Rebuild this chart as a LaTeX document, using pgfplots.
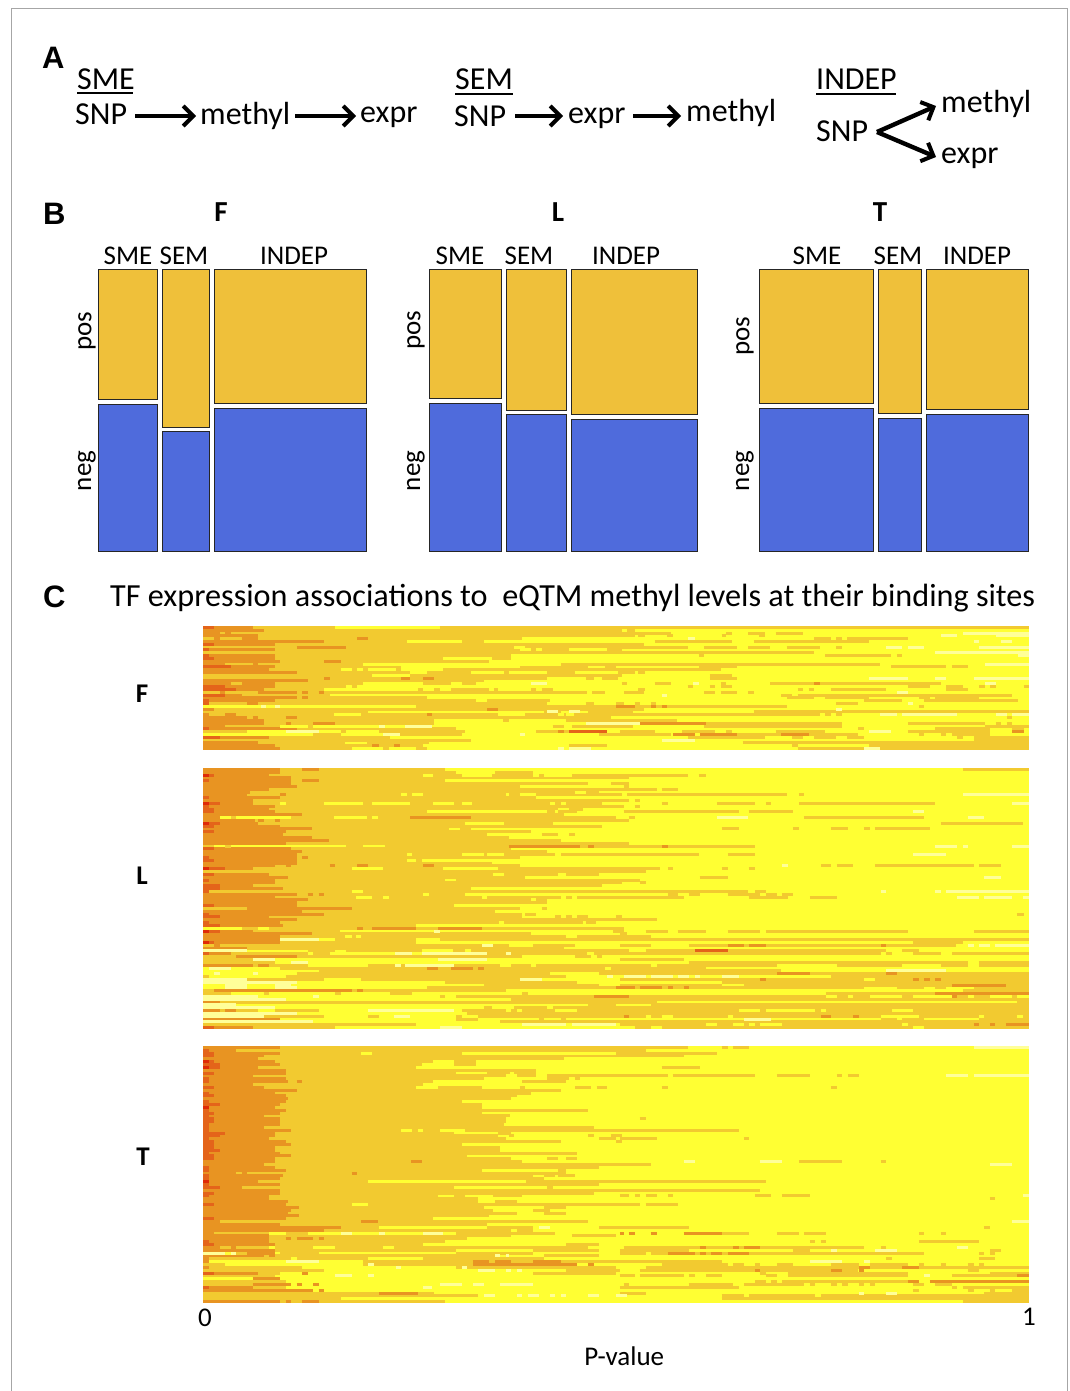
\documentclass[border=0pt]{standalone}
\usepackage{fontspec}
\setmainfont{Carlito}
\newfontfamily\arialb{Liberation Sans}[BoldFont={Liberation Sans Bold}]
\usepackage{pgfplots}
\usepackage{pgfplotstable}
\pgfplotsset{compat=1.18}
\usetikzlibrary{arrows.meta}
\definecolor{cY}{HTML}{FFFF33}
\definecolor{cG}{HTML}{F2CA30}
\definecolor{cO}{HTML}{E89422}
\definecolor{cD}{HTML}{E4641A}
\definecolor{cR}{HTML}{DF2A08}
\definecolor{cP}{HTML}{FFFF99}
\definecolor{mG}{HTML}{EFC03A}
\definecolor{mB}{HTML}{4F6BDC}
\pgfplotstableread{
r d a b
0 2 9 24
1 0 11 76
2 0 3 85
3 0 10 78.5
4 0 0 58
5 0 22 37
6 2 13 80
7 0 0 88
8 1 13 76
9 0 0 111
10 1 13 56
11 2 13 56
12 0 14 52
13 0 4 123
14 5 13 36
15 0 12 36
16 0 17 78.5
17 0 0 76
18 0 0 62.5
19 0 19 51
20 0 13 29
21 4 13 26
22 6 11 22
23 0 0 73
24 4 7 23
25 0 17 40.7
26 1 13 63
27 1 1 62.5
28 0 0 0
29 0 2 80
30 0 0 30
31 0 1 112
32 0 8 74
33 0 11 42
34 0 11 42
35 0 4 14
36 1 17 46
37 0 0 8
38 0 0 0
39 3 12 34
40 0 0 48.7
41 0 10 25.8
42 0 13 40
43 0 13 27
}\Fbase
\pgfplotstableread{
r s e l
0 43 150 1
1 77 78.5 1
2 95 96 1
2 99 102 1
2 104 109 1
2 138 147 4
2 147 150 4
2 4 5 2
3 79 80.3 1
3 84.3 85.3 1
3 94.2 95 1
3 101 102 1
3 134 137 4
3 144 150 4
4 2 3 2
4 7 10 2
4 28 30 2
4 111 114 1
4 115 116 1
4 117 128 1
4 88 89.3 4
5 47 51 1
5 82 96 1
5 100 121 1
5 140 141 4
5 145 147 4
7 17 26 2
7 56.5 58.5 0
7 91 97 1
7 99 103 1
7 106 112 1
7 115 116 1
7 124 127 4
7 128 131 4
7 141 150 4
8 57.5 59.5 0
8 60.5 61.5 0
8 66.5 73.4 0
9 133 150 4
10 90 91 1
10 113 125 1
10 126 127 1
10 148 150 4
11 43.6 52.5 0
12 22 25 2
13 9 10 2
13 29 65 0
13 142 150 4
14 57.5 70 1
14 73 75 1
14 90 97 1
14 125 135 1
14 136 139 1
15 25 27 0
15 28 29 0
15 30 35 0
15 43.6 94 1
16 37.6 40.7 0
16 48.7 54.6 0
16 55.5 62.5 0
16 67.5 75.3 0
16 79 80.3 1
17 30.7 37.6 0
17 92 96 1
18 22 23 2
18 36 37.6 2
18 40 42 2
18 69.5 71 1
18 72.5 75.3 1
18 92 97 1
18 121 128 4
18 133 135 4
18 140 150 4
20 5 7 1
20 40 45 1
20 47 49.6 1
20 59.6 62.5 4
20 76 77 1
20 82 85 1
20 94 95 1
20 103 134 1
20 111 112 2
20 89 90 4
20 142 144 4
21 27 28 1
21 88 89 1
21 92 93 1
21 94 96 1
21 128 132 1
21 135 138 1
21 141 142 1
21 143 144 1
21 149 150 1
22 39 40 1
22 42 43 1
22 45 52 1
22 52.8 53.6 1
22 59.6 60.5 1
22 61.5 63.5 1
22 79 80.3 1
22 108 109 1
22 110 111 1
22 114 124 1
22 135 139 1
23 3 4 2
23 10 17 2
23 18 19 2
23 21 22 2
23 69.8 70.7 0
23 76.5 80 1
23 91 93 1
23 94 97 1
23 99 100 1
23 126 128 4
24 83.3 84.2 4
24 105 107 1
24 108 147 1
25 18 19 2
25 106 111 1
25 113 121 1
25 130 132 1
25 133 141 1
26 49.6 51.6 0
26 120 127 1
26 131 148 1
27 8 10 2
27 69.5 71 1
27 75 76.5 1
27 78.4 79.3 1
27 81.3 82.3 1
27 115 119 1
27 128 129 4
28 38.7 106 1
28 75 78.4 2
28 81.3 82.3 2
28 83.3 84.2 2
28 130 131 1
28 10.5 11.5 4
28 13 14 4
29 51.6 53.6 2
29 115 116 4
30 62 65 1
30 67 68 1
30 70 78 1
30 100 150 1
30 62.5 64.5 4
30 66.5 68.5 4
31 4 6 2
31 23.8 28.7 0
31 40.7 41.6 2
31 53.6 58.5 0
31 64.5 65.5 0
31 66 67.4 0
31 113 114 1
31 115 116 1
31 123 126 4
31 127 137 4
31 144 146 4
31 147 150 4
32 9 10 2
32 15 17 2
32 146 147 1
33 54.5 55.5 1
33 66 86 1
34 15 16 2
34 20 24 2
34 69.5 78 4
34 75.7 79.3 4
34 79.3 91.3 2
34 91.3 116 1
34 128 142 1
34 144 145 1
34 146 147 1
35 14 19 0
35 19 20 1
35 20 32 0
35 32 33 4
35 33 36.7 0
35 36.7 41.6 4
35 63.5 65.5 1
35 67 78 1
35 91 116 1
35 142 150 1
35 14 14.5 1
36 119 120 1
36 133 143 1
36 147 149 1
37 25 26 1
37 15 21 4
37 32 47.6 1
37 60.5 66.5 1
37 64.5 65.5 2
37 66.5 73.4 3
37 75.7 82 1
37 87 93 1
37 95 96 1
37 104 113 1
37 128 143 1
37 147 149 2
37 121 125 4
38 20 25 1
38 32.7 35.8 4
38 35.8 47 1
38 57.5 58.5 4
38 72 85 1
38 85.3 89.3 2
38 90.2 97 2
38 97 105 1
38 105 110 2
38 110 119 1
38 130 131 1
38 134 135 1
38 136 143 1
39 88 102 1
39 107 109 1
39 111 115 1
39 117 120 1
39 137 138 1
39 140 150 1
40 83.3 89.3 4
40 140 150 1
41 29.8 41 1
41 98 150 1
42 30.7 32 2
42 34.7 35.8 2
42 40 46 0
42 66.5 73.4 1
42 107 108 1
42 121 150 1
43 13 14 2
43 32.7 33.8 1
43 38.7 40.7 1
43 108 150 1
43 120 123 4
43 64.5 65.5 4
43 66.5 70.5 4
}\Fsegs
\pgfplotstableread{
r d a b
0 0 14 44
1 0 14 46
2 2 12 88
3 0 16 77.3
4 1 16 44
5 0 16 77.3
6 0 17 57.5
7 0 12 82.4
8 0 8.5 72
9 0 8 106
10 1 14 60.5
11 0 9 77.3
12 3 9 76
13 1 13 76.4
14 2 12 64.5
15 2 13 68
16 0 18 65.5
17 0 3 75
18 0 9.5 77.3
19 3 10 63.5
20 2 14 72.5
21 0 19.8 44.7
22 2 15 59.5
23 0 14.5 51.6
24 0 19.8 55.5
25 0 22.9 65
26 0 15 77.3
27 0 0 2
28 2 16 56
29 0 18 62.5
30 0 17 90
31 1 17 57.5
32 2 17 37
33 0 17 52.5
34 0 13 57.5
35 4 9 83
36 0 0 80.4
37 2 12 64.5
38 0 15.5 58.5
39 1 13 44
40 0 13 76
41 3 9 72.5
42 3 14.5 48.7
43 1 1 99
44 0 17 47.6
45 0 13 87.3
46 0 19 62.5
47 0 17 62.5
48 2 17 45.6
49 0 0 57.5
50 0 18 53
51 1 22 58
52 3 12 58
53 0 17 82.4
54 1 14 69
55 3 14.5 38.7
56 0 0 76.4
57 3 9 24.9
58 0 19.8 59.6
59 0 14 66
60 0 14 150
61 2 14 38.7
62 0 0 55.5
63 0 8 65.5
64 0 0 0
65 1 5 150
66 0 0 58
67 0 0 9
68 0 0 13
69 0 9 104.2
70 0 0 0
71 0 0 0
72 0 0 0
73 0 0 1
74 0 0 0
75 0 0 0
76 0 0 0
77 0 0 0
78 0 0 55
79 0 0 5
80 0 0 0
81 0 0 0
82 0 3 82.4
83 0 0 0
84 0 0 0
85 0 3 21
86 0 0 0
87 0 0 0
88 0 0 0
89 0 0 0
90 0 0 38.7
91 2 9 24
}\Lbase
\pgfplotstableread{
r s e l
0 18 21 2
0 138 150 1
1 53 60 1
2 40 41.8 0
2 47 52.5 0
2 60 61 0
2 62 67 0
2 90 91.3 1
2 0 1 5
4 18 21 2
5 70 74 0
6 76.4 77.3 1
7 83.3 86.2 1
8 67.5 69.5 0
9 14 15 2
9 36 37 0
9 38 40 0
9 55 55.5 0
9 57.5 60.5 0
9 76 77 0
9 108.2 109.1 1
9 138 150 4
11 78.4 79.3 1
12 14 15 0
12 22 29 0
12 30.7 37.6 0
12 41.8 45.6 0
12 47 48.9 0
12 63 64 0
12 65 66 0
12 72.5 76 0
12 83.3 84.4 1
12 93.3 100.2 1
12 102.2 103.1 1
12 108.2 132.9 1
12 146.9 150 4
12 0 1 5
13 78.4 79.3 1
14 66.5 69 1
15 40.7 62.5 0
15 64 64.5 0
15 76.4 97.3 1
15 99.1 107.1 1
15 128.9 130.9 4
17 3 5 0
17 6 16 0
17 23.8 29.8 0
17 30.7 31.8 0
17 37.6 48.7 2
17 77.3 78.4 1
17 109.1 130.9 1
17 93.3 99 4
17 138.9 141.8 4
18 10 11 2
18 13 14 2
19 47.6 54.7 0
19 134 148.9 1
19 0 1 5
21 46.7 48.7 1
21 94.2 97.3 1
21 107.1 108.2 1
21 114 117.1 1
21 120 121.1 1
21 122 132 1
23 61.5 64.5 1
23 66.5 67.5 1
27 4 5 1
27 26 29 1
27 33 100.2 1
27 55.5 68.5 2
27 70 71 2
27 83.3 84.4 2
27 132.9 136.9 4
27 138 139 4
27 147 150 4
30 37 38 0
30 47 51 0
30 51.6 54.7 0
30 64 65 0
30 95.3 100.2 1
30 128.9 134.9 4
31 18 19 2
32 38.7 39.8 1
33 71 72 0
34 15 16 2
34 23 24 2
34 28 30 2
34 40 42 2
34 112.2 114 1
34 115.1 118 1
34 122 140 1
34 140.9 144.9 1
34 105.1 106.2 4
35 27 32.6 0
35 43.6 53.6 0
35 84.4 85.3 1
35 94.2 95.3 1
35 99.1 100.2 1
35 0 1 5
37 52.6 54.7 0
37 66 72 1
38 90.2 95.3 1
38 141.8 144.9 4
39 46 79.3 1
40 79.3 80.4 1
41 10 12 1
43 27 29 0
43 100.2 102.2 1
43 123.1 124 4
43 132.9 134 4
43 134.9 150 4
44 19 20 2
44 21 22 2
44 40 41 0
44 84.4 86.2 1
44 88.2 90.2 1
44 95.3 101.1 1
44 102.2 104.2 1
44 105.1 107.1 1
45 27.8 30.7 0
45 32.7 33.8 0
45 50.7 51.6 0
45 65 66 0
45 67 68 0
45 99.1 106.2 1
45 110.2 115.1 1
45 136.9 140.9 4
45 141.8 146.9 4
45 148.9 150 4
46 59.6 60.5 0
49 8 27 2
49 61.5 62.5 1
51 58.5 60.5 1
51 147.8 149 1
52 64 65 1
52 66 67 1
52 68 70 1
52 75 76 1
54 69.5 71.4 1
54 53.7 54.7 0
56 0 7 0
56 10 12 0
56 28 29 2
56 30.7 38.7 2
56 42.7 50.7 2
57 42 43 4
57 74.5 76.5 1
57 80.4 84.4 1
57 86.2 91.3 1
57 95.3 101.1 1
57 102.2 128 1
57 140 150 1
57 0 1 5
58 75.7 77 1
59 25.8 27 0
59 27.8 28.7 0
59 68 81.3 1
60 14 21 4
60 21 24 0
60 38.7 43 0
61 128.9 138 1
61 0 1 5
62 2 3 2
62 0 1 1
62 11 15 1
62 20 22.9 1
62 23.8 25 1
62 27 27.8 1
62 31.8 41 1
62 42 45 1
62 50.7 52.7 4
62 60 67.6 1
62 75.7 81.3 1
62 88.2 136.8 1
62 95.3 98.2 2
62 99.1 102.2 2
62 123.1 124 2
62 138.9 140 4
62 140.9 142.9 4
62 143.8 150 4
64 0 8 4
64 19 24 1
64 26 77.3 1
64 39.7 45.4 0
64 47.6 48.7 0
64 80.4 124 1
64 126.9 130 1
64 89.3 95.3 3
65 19 20 0
65 23 51.6 0
65 34.9 38 4
65 39.7 51.6 4
65 55 56 4
65 69.8 71 0
65 123.1 124 0
65 125.1 128.9 0
65 134 136 0
66 6 17 2
66 67.6 70.5 1
66 71.5 72.5 1
67 9 13 4
67 42.7 51.6 4
67 75.7 87.3 1
68 16 19 4
68 88.2 138.9 1
68 140.9 150 1
69 10 12 2
69 19 30 0
69 34.9 36 4
69 36.7 45.6 4
69 54 56 0
69 59.6 60.5 0
69 81.3 82.4 0
69 115.1 126.9 1
69 134 138.9 1
69 140.9 150 1
70 1 5 4
70 14 91.3 1
70 40.7 42.7 2
70 45 49 2
70 50 51 2
70 73 74 0
71 21 105 1
71 124 134.9 4
72 2 3 4
72 9 10 4
72 17 104.2 1
72 104.2 110.2 2
72 110.2 150 1
72 124 126 2
72 63 72 0
73 15 66 1
73 114 150 1
73 73.4 74.5 4
73 76.4 80.4 4
73 81.3 85.3 4
73 86.2 88.2 4
73 89.3 90.2 4
73 94.2 97.3 4
74 0 8 4
74 8 22 1
74 28.7 57.5 1
74 57.5 61.5 4
74 75.7 120 1
74 122 150 1
74 101.1 102.2 2
74 128.9 130 2
74 130.9 132 2
74 132.9 134 2
75 0 17 4
75 44 68 1
75 94.2 150 1
76 4 8 4
76 13 16 4
76 51 72 1
76 75.7 94.2 1
76 98.2 150 1
76 136 145.8 2
77 4 8 4
77 13 17 4
77 40.7 120 1
77 75 78.4 2
77 79.3 81.3 2
77 80.4 83.3 2
77 84.4 85.3 2
77 87.3 88.2 2
77 126 130.9 1
77 132.9 134.9 1
77 140 150 1
78 2 27 2
78 28 29 2
78 138 150 1
79 11 12 1
79 24 25 1
79 34 38 1
79 58 59 1
79 113.1 150 1
79 132.9 150 2
80 0 10 4
80 20 21 4
80 43 44 1
80 46 113.1 1
80 71 77.3 2
80 115.1 117.1 1
80 118 121.1 1
80 126.9 128.9 1
80 136 136.9 2
80 136.9 138.9 1
80 140 142.9 1
80 146.9 147.8 1
81 0 15 4
81 56 150 1
82 147.8 150 1
83 0 6 4
83 70 75 1
83 81.3 150 1
84 0 13 4
84 51 52.5 1
84 56.5 150 1
84 62.5 63.5 0
85 4 6 2
85 3 4 1
85 10 13 0
85 30 45.6 4
85 47 150 1
85 55 56 0
85 57 58 0
85 64 68 0
85 97.3 101.1 0
85 102.2 111.1 0
85 112.2 113.1 0
85 125.1 128.9 0
86 0 17 4
86 48 150 1
87 0 11 4
87 11 22 1
87 30 32 1
87 34.7 37.6 4
87 46 47 1
87 50 150 1
87 76.4 77.3 2
87 112.2 114 2
87 118 119.1 2
87 80.4 81.3 0
87 83.3 85.3 0
87 95.3 96.2 0
87 123.1 130 0
87 140.9 141.8 0
87 147.8 148.9 0
88 0 14 2
88 46 50 1
88 61 62 1
88 65 66 1
88 98.2 103.1 4
88 123.1 126 1
88 126.9 130.9 1
88 140.9 150 1
89 0 20 4
89 54 150 1
90 58 66 4
90 67 75 4
90 75.7 150 1
90 91.3 93.3 0
90 96.2 98.2 0
90 99.1 100.2 0
90 101.1 105.1 0
90 126.9 128 0
90 140 140.9 2
90 142.9 143.8 2
90 145.8 150 2
91 43 47 4
91 78.4 81.3 1
91 83.3 128.9 1
91 130.9 150 1
}\Lsegs
\pgfplotstableread{
r d a b
0 0 14 88
1 1 6 80.4
2 2 14 93.3
3 2 11 87.3
4 0 10 65.6
5 2 13 41.8
6 3 14 39.8
7 3 10 38.7
8 0 15 60.5
9 2 15 46
10 0 9 84.4
11 1 15 51
12 1 15.5 41.8
13 0 9 40
14 2 11 38.7
15 0 17 65
16 1 13 59.6
17 2 15 57
18 0 15.5 56
19 1 15 47
20 3 14 50.6
21 0 13 50.6
22 1 15 70
23 2 14 50.6
24 1 11 55.7
25 2 14 55
26 2 14 55
27 1 14 54.7
28 1 11 71
29 1 16 97.3
30 4 13 45.6
31 3 13 53.6
32 1 12 55
33 2 15 65
34 2 16 47
35 2 13 54
36 3 13 54
37 1 14 68
38 2 16 48
39 2 13 56
40 0 13 58
41 0 11 81.3
42 1 13 72
43 1 15 50.7
44 0 6 66
45 1 14.5 60
46 1 14 62
47 1 10 102.2
48 1 14 72
49 3 7 45.6
50 0 14 101.1
51 2 14 71
52 1 12 42.6
53 0 12 50
54 0 15.5 50
55 2 15 79.3
56 0 17.5 51
57 0 16 52.7
58 0 15.5 57
59 0 17.5 52
60 2 15 41.8
61 0 3 70
62 0 14 51.5
63 0 25 32
64 0 22 56
65 0 2 64
66 0 12 56
67 0 12 48
68 1 12 44
69 2 13 40
70 0 3 70
71 0 13 46
72 0 0 0
73 0 11 53
74 0 1 30
75 0 1 1
76 0 0 4
77 0 1 18
78 0 0 22
79 2 10 14
80 0 0 13
81 0 0 0
82 0 0 15
83 0 0 16
84 1 9 15
85 0 9 20
86 0 0 42
87 0 0 50
88 0 0 25
89 0 14 44
}\Tbase
\pgfplotstableread{
r s e l
0 94.2 95.3 1
0 96.2 99.1 1
0 140 150 4
2 28.7 30.7 0
2 47 75 0
5 0 1 5
5 45.6 49.6 1
6 45.6 49.6 1
7 83.3 90.2 1
7 0 1 5
9 51.6 55.8 1
9 56.5 60.5 1
10 55 57 0
10 60.5 62.5 0
10 85.3 100.2 1
10 104.2 110.2 1
10 115.1 116 1
10 117.1 119.1 1
10 134.9 138.9 4
10 140 150 4
11 62.5 66.5 1
11 67.5 68.5 1
12 17 18 2
12 58 66 1
14 38.7 41.7 0
14 42.7 50.7 1
14 57.5 58.5 1
14 67.6 70.5 1
14 71.5 73.4 1
14 83.3 84.4 1
14 114 115.1 1
14 0 1 3
21 0 1 5
25 79.3 80.4 1
29 36 38 0
29 39 40 0
29 43 47.6 0
30 53.6 56 1
31 55.5 56.5 1
31 70 71 1
31 74 76 1
31 0 1 3
32 72 75 1
32 75.7 82.4 1
32 98.2 99.1 1
33 75 76 1
39 62.5 64.5 1
39 66 68 1
40 37.8 39.8 2
40 87.3 89.3 4
40 101.1 105.1 4
40 108.2 116 1
40 123.1 124 1
41 142.9 146.9 4
43 64.5 66 1
44 27 28 2
44 7 8 2
45 62 64 1
45 64.5 67.5 1
47 0 1 5
47 30 58.7 0
47 58.7 61 1
47 92.2 102.2 1
49 62.5 63.5 1
52 45.6 47.6 1
52 52.7 58 1
52 75.7 77.3 1
52 78.4 79.3 1
52 80.4 82.4 1
52 84.4 85.3 1
52 100.2 103.1 1
52 105.1 110.2 1
52 148.9 150 4
53 8 12 2
53 142.9 143.8 1
54 53 57 1
55 27 30 0
55 80.4 86.2 1
56 62 66 1
57 60 63 1
58 62 66 1
61 28.7 31.8 2
61 146.9 150 4
63 51.6 60 1
63 61 63 4
63 72 88.2 1
63 141.8 142.9 1
64 57 60 1
65 12 15 0
65 19 46 0
65 25 27 4
65 32 33 4
65 40 43.6 4
65 75.7 76.4 2
65 77.3 78.4 2
65 81.3 82.4 2
65 87.3 94.2 2
65 94.2 99.1 1
65 104.2 108.2 1
65 109.1 113.1 1
65 130 130.9 1
65 134 134.9 1
66 67 75 1
67 15 16 2
67 17 20 2
67 21 22 2
68 110.2 111.1 1
68 112.2 113.1 1
68 130 140.9 1
69 66 72 1
70 5 6 2
70 12 13 0
70 20 24 0
70 32.6 34.6 0
70 76.4 120 1
70 90.2 91.3 2
70 96.2 97.3 2
70 98.2 101.1 2
70 123.1 124 1
70 136.9 138.9 4
71 8 13 2
71 46 48 0
71 60 72 1
71 75.7 88.2 1
71 107.1 110.2 1
71 142.9 144.9 1
71 114 115.1 4
71 122 126 4
72 0 4 4
72 4 5 0
72 5 6 4
72 6 8 1
72 8 13 2
72 14 21 1
72 46 60 1
72 75.7 80.4 1
72 81.3 130.9 1
72 84.4 89.3 2
72 90.2 91.3 2
72 92.2 94.2 2
72 95.3 99.1 2
72 140.9 141.8 1
72 142.9 143.8 1
73 12 13 2
73 53 54 4
73 55 55.5 4
73 62 72 1
74 16 17 0
74 40 62 1
74 124 125.1 1
74 140.9 143.8 1
75 15 21 4
75 29 75.7 1
75 49 52 2
75 53 56 2
75 60 65 2
75 75.7 94.2 1
75 110.2 116 4
75 120 121.1 4
76 30 31 4
76 29 68 1
76 49 68 2
76 70 71 2
76 83.3 95.3 1
76 96.2 98.2 1
76 100.2 101.1 1
76 104.2 107.1 1
76 114 119.1 1
76 121.1 128 1
76 130 130.9 1
76 134 134.9 1
76 138.9 140 1
76 140.9 141.8 1
77 35 36 4
77 47 48 4
77 46 75 1
77 80.4 150 1
77 119.1 121.1 2
77 126.9 130 2
78 50 53 4
78 55 56 4
78 57 58 4
78 66 75.7 1
78 79.3 119 1
78 100.2 101.1 2
78 114 116 2
78 119.1 120 2
78 138.9 140.9 1
79 18 19 2
79 60 75 1
79 101.1 102.2 1
79 106.2 128 1
79 142.9 150 1
80 24 27 4
80 30 31 4
80 75.7 78.4 1
80 79.3 87.3 1
80 88.2 89.3 1
80 91.3 94.2 1
80 102.2 104.2 1
80 106.2 128 1
80 130.9 132 4
80 136 150 1
80 147.8 150 2
81 9 14 2
82 100.2 102.2 1
82 103.1 104.2 1
82 105.1 128 1
82 128 130 2
82 132 150 2
83 9 16 2
83 17 18 2
83 20 21 2
83 43 47 4
83 49 51 4
83 54 60 4
83 76.4 77.3 1
83 88.2 96.2 1
83 98.2 109.1 1
83 110.2 111.1 1
83 114 115.1 1
83 116 117.1 1
83 119.1 120 1
83 121.1 122 1
83 128.9 130.9 1
83 132.9 136 1
84 40 41.6 4
84 75.7 97.3 1
84 136 136.9 1
84 138 150 1
85 9 20 2
85 21 22 2
85 128.9 130 1
85 138.9 140 1
85 142.9 143.8 1
85 146.9 150 1
86 32 39 2
86 75.7 80.4 1
86 141.8 150 1
86 119.1 120 4
86 124 126 4
87 51 53 4
87 57 58 4
87 59 61 4
87 63 64 4
87 65 66 4
87 70 72 4
87 75 77 4
87 94.2 98.2 1
87 99.1 111.1 1
87 112.2 150 1
88 94.2 150 1
89 15 16 2
89 18 21 2
89 138 150 1
}\Tsegs
\pgfplotsset{
 panel/.style={scale only axis,xmin=0,xmax=150,y dir=reverse,anchor=south west,clip=true},
 segstyle/.style n args={2}{draw=none,mark=none,
   error bars/.cd,x dir=plus,x explicit,error mark=none,
   error bar style={draw=#1,line width=#2}},
}
\newcommand{\baseplots}[2]{%
 \addplot[xcomb,color=cG,line width=#2] table[x=b,y=r]{#1};
 \addplot[xcomb,color=cO,line width=#2] table[x=a,y=r]{#1};
 \addplot[xcomb,color=cD,line width=#2] table[x=d,y=r]{#1};
}
\newcommand{\segplot}[4]{%
 \addplot[y filter/.expression={\thisrow{l}==#2 ? y : nan},segstyle={#3}{#4}] table[x=s,y=r,x error expr=\thisrow{e}-\thisrow{s}]{#1};
}
\newcommand{\allsegs}[2]{%
 \segplot{#1}{1}{cG}{#2}\segplot{#1}{0}{cY}{#2}\segplot{#1}{2}{cO}{#2}%
 \segplot{#1}{3}{cD}{#2}\segplot{#1}{4}{cP}{#2}\segplot{#1}{5}{cR}{#2}%
}
\newcommand{\bg}[1]{\addplot[fill=cY,draw=none] coordinates {(0,-0.5)(150,-0.5)(150,#1)(0,#1)} --cycle;}
\newcommand{\fs}[1]{\fontsize{#1}{#1}\selectfont}
\newcommand{\tx}[4]{\node[anchor=base west,inner sep=0pt,font=\fs{#1}] at (axis cs:#2,#3) {#4};}
\newcommand{\tc}[4]{\node[anchor=base,inner sep=0pt,font=\fs{#1}] at (axis cs:#2,#3) {#4};}
\newcommand{\mrect}[5]{\addplot[fill=#5,draw=black!85,line width=0.8pt] coordinates {(#1,#3)(#2,#3)(#2,#4)(#1,#4)} --cycle;}
\newcommand{\barrow}[4]{\addplot[black,line width=4.4pt,-{Straight Barb[length=10pt,width=20pt,line width=4pt]}] coordinates {(#1,#2)(#3,#4)};}
\begin{document}
\begin{tikzpicture}
\useasboundingbox (0,0) rectangle (1070pt,1391pt);
\begin{axis}[at={(0,0)},anchor=south west,scale only axis,width=1070pt,height=1391pt,
  xmin=0,xmax=1070,ymin=0,ymax=1391,y dir=reverse,hide axis,clip=false]
\addplot[color=black!35,line width=1pt] coordinates {(11,1391)(11,8.5)(1067,8.5)(1067,1391)};
\node[anchor=base west,inner sep=0pt,font=\arialb\bfseries\fs{31}] at (axis cs:42,69) {A};
\node[anchor=base west,inner sep=0pt,font=\arialb\bfseries\fs{31}] at (axis cs:43,224) {B};
\node[anchor=base west,inner sep=0pt,font=\arialb\bfseries\fs{31}] at (axis cs:43,607) {C};
\tx{32}{77}{90}{SME}
\addplot[black,line width=2pt] coordinates {(77,93)(133,93)};
\tx{32}{75}{125}{SNP}\tx{32}{200}{125}{methyl}\tx{32}{360}{123}{expr}
\barrow{135}{116}{196}{116}\barrow{295}{116}{356}{116}
\tx{32}{455}{90}{SEM}
\addplot[black,line width=2pt] coordinates {(455,94)(513,94)};
\tx{32}{454}{127}{SNP}\tx{32}{568}{124}{expr}\tx{32}{686}{122}{methyl}
\barrow{515}{116}{563}{116}\barrow{633}{116}{681}{116}
\tx{32}{816}{90}{INDEP}
\addplot[black,line width=2pt] coordinates {(816,94)(896,94)};
\tx{32}{816}{142}{SNP}\tx{32}{941}{113}{methyl}\tx{32}{941}{164}{expr}
\barrow{877}{132}{936}{106}\barrow{877}{132}{936}{157}
\node[anchor=base,inner sep=0pt,font=\bfseries\fs{29}] at (axis cs:221,222) {F};
\node[anchor=base,inner sep=0pt,font=\bfseries\fs{29}] at (axis cs:558,222) {L};
\node[anchor=base,inner sep=0pt,font=\bfseries\fs{29}] at (axis cs:880,222) {T};
\tc{27}{128}{264}{SME}\tc{27}{184}{264}{SEM}\tc{27}{294}{264}{INDEP}
\tc{27}{460}{264}{SME}\tc{27}{529}{264}{SEM}\tc{27}{626}{264}{INDEP}
\tc{27}{817}{264}{SME}\tc{27}{898}{264}{SEM}\tc{27}{977}{264}{INDEP}
\mrect{98}{157}{269}{399}{mG}\mrect{98}{157}{404}{551}{mB}
\mrect{162}{209}{269}{427}{mG}\mrect{162}{209}{431}{551}{mB}
\mrect{214}{366}{269}{403}{mG}\mrect{214}{366}{408}{551}{mB}
\mrect{429}{501}{269}{398}{mG}\mrect{429}{501}{403}{551}{mB}
\mrect{506}{566}{269}{410}{mG}\mrect{506}{566}{414}{551}{mB}
\mrect{571}{697}{269}{414}{mG}\mrect{571}{697}{419}{551}{mB}
\mrect{759}{873}{269}{403}{mG}\mrect{759}{873}{408}{551}{mB}
\mrect{878}{921}{269}{413}{mG}\mrect{878}{921}{418}{551}{mB}
\mrect{926}{1028}{269}{409}{mG}\mrect{926}{1028}{414}{551}{mB}
\node[rotate=90,inner sep=0pt,font=\fs{27}] at (axis cs:87,331) {pos};
\node[rotate=90,inner sep=0pt,font=\fs{27}] at (axis cs:87,471) {neg};
\node[rotate=90,inner sep=0pt,font=\fs{27}] at (axis cs:416,330) {pos};
\node[rotate=90,inner sep=0pt,font=\fs{27}] at (axis cs:416,471) {neg};
\node[rotate=90,inner sep=0pt,font=\fs{27}] at (axis cs:745,336) {pos};
\node[rotate=90,inner sep=0pt,font=\fs{27}] at (axis cs:745,471) {neg};
\tx{32.2}{110}{606}{TF expression associations to\ \ eQTM methyl levels at their binding sites}
\node[anchor=center,inner sep=0pt,font=\bfseries\fs{27}] at (axis cs:142,694) {F};
\node[anchor=center,inner sep=0pt,font=\bfseries\fs{27}] at (axis cs:142,876) {L};
\node[anchor=center,inner sep=0pt,font=\bfseries\fs{27}] at (axis cs:143,1157) {T};
\end{axis}
\begin{axis}[panel,hide axis,at={(203pt,641pt)},width=826pt,height=124pt,ymin=-0.5,ymax=43.5]
\bg{43.5}
\baseplots{\Fbase}{3pt}
\allsegs{\Fsegs}{3pt}
\end{axis}
\begin{axis}[panel,hide axis,at={(203pt,362pt)},width=826pt,height=261pt,ymin=-0.5,ymax=91.5]
\bg{91.5}
\baseplots{\Lbase}{3pt}
\allsegs{\Lsegs}{3pt}
\end{axis}
\begin{axis}[panel,at={(203pt,88pt)},width=826pt,height=257pt,ymin=-0.5,ymax=89.5,
  axis line style={draw=none},major tick length=0pt,ytick=\empty,
  xtick={0,150},xticklabels={\hspace{4pt}0,1},
  tick label style={font=\fs{27}},
  xticklabel style={yshift=-2pt},
  xlabel={P-value},label style={font=\fs{27}},
  xlabel style={at={(rel axis cs:0.51,0)},anchor=base,yshift=-62pt}]
\bg{89.5}
\baseplots{\Tbase}{3pt}
\allsegs{\Tsegs}{3pt}
\end{axis}
\end{tikzpicture}
\end{document}
